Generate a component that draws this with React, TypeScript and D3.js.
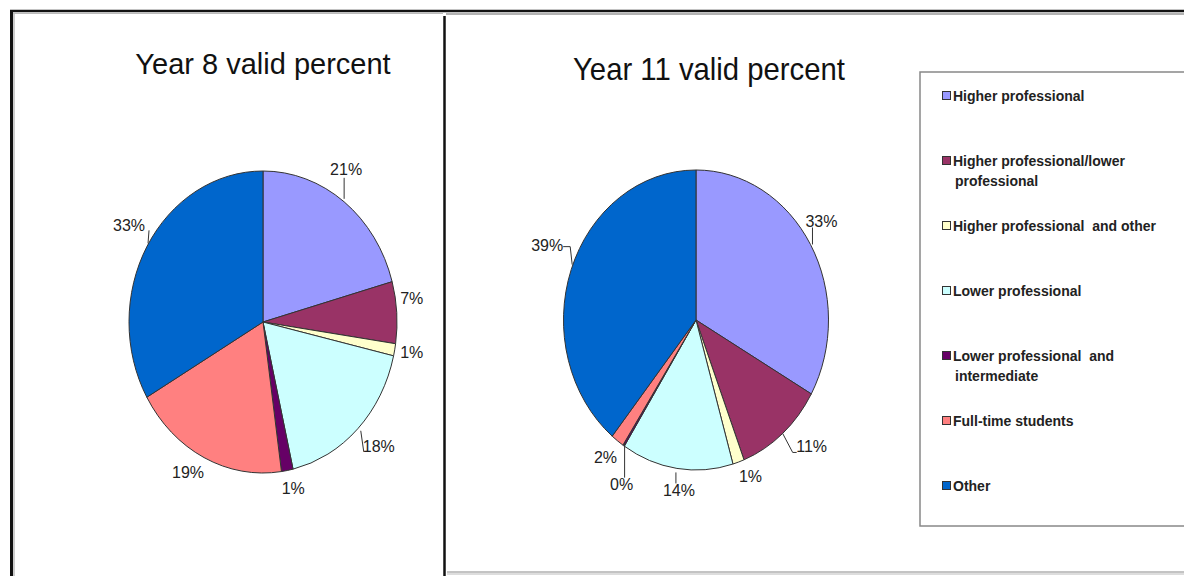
import React from "react";
import * as d3 from "d3";

const categories = [
  "Higher professional",
  "Higher professional/lower professional",
  "Higher professional and other",
  "Lower professional",
  "Lower professional and intermediate",
  "Full-time students",
  "Other",
];
const legendLines = [
  ["Higher professional"],
  ["Higher professional/lower", "professional"],
  ["Higher professional  and other"],
  ["Lower professional"],
  ["Lower professional  and", "intermediate"],
  ["Full-time students"],
  ["Other"],
];
const colors = ["#9999FF", "#993366", "#FFFFCC", "#CCFFFF", "#660066", "#FF8080", "#0066CC"];

const year8Values = [20.7, 6.6, 1.3, 17.8, 1.4, 18.9, 33.3];
const year11Values = [33.2, 10.9, 1.4, 13.6, 0.2, 1.6, 39.1];

const titles = ["Year 8 valid percent", "Year 11 valid percent"];

// layout: label offsets from slice edge midpoint, and optional leader lines (relative to edge point)
type Lay = { dx: number; dy: number; leader?: number[][] };
const year8Layout: Lay[] = [
  { dx: 2, dy: -33, leader: [[0, -3], [0, -24]] },
  { dx: 15, dy: -14 },
  { dx: 17, dy: 2 },
  { dx: 21, dy: 17, leader: [[3, 2], [6, 23]] },
  { dx: 6, dy: 18 },
  { dx: -16, dy: 15 },
  { dx: -18, dy: -21, leader: [[1, -3], [2, -16]] },
];
const year11Layout: Lay[] = [
  { dx: 11, dy: -23, leader: [[2, 0], [2, -17]] },
  { dx: 29, dy: 13, leader: [[0, 0], [10, 19], [14, 19]] },
  { dx: 12, dy: 14 },
  { dx: 2, dy: 22, leader: [[-1, 4], [-1, 15]] },
  { dx: -2, dy: 39, leader: [[1, -3], [1, 32]] },
  { dx: -12, dy: 16 },
  { dx: -24, dy: -24, leader: [[1, -5], [-1, -23], [-8, -23]] },
];

const FONT = "'Liberation Sans', Arial, sans-serif";

function Pie({ values, layout, cx, cy, rx, ry }: { values: number[]; layout: Lay[]; cx: number; cy: number; rx: number; ry: number }) {
  const pie = d3.pie<number>().sort(null).value((d) => d);
  const arcs = pie(values);
  const arc = d3.arc<d3.PieArcDatum<number>>().innerRadius(0).outerRadius(rx);
  const fmt = (v: number) => `${Math.round(v)}%`;
  return (
    <g>
      <g transform={`translate(${cx},${cy}) scale(1,${ry / rx})`}>
        {arcs.map((a, i) => (
          <path key={i} d={arc(a) || ""} fill={colors[i]} stroke="#333" strokeWidth={1} vectorEffect="non-scaling-stroke" strokeLinejoin="round" />
        ))}
      </g>
      {arcs.map((a, i) => {
        const mid = (a.startAngle + a.endAngle) / 2;
        const ex = cx + rx * Math.sin(mid);
        const ey = cy - ry * Math.cos(mid);
        const l = layout[i];
        return (
          <g key={i}>
            {l.leader && (
              <polyline
                points={l.leader.map((p) => `${ex + p[0]},${ey + p[1]}`).join(" ")}
                fill="none"
                stroke="#333"
                strokeWidth={1}
              />
            )}
            <text x={ex + l.dx} y={ey + l.dy} dy="0.36em" textAnchor="middle" fontFamily={FONT} fontSize={16} fill="#222">
              {fmt(values[i])}
            </text>
          </g>
        );
      })}
    </g>
  );
}

export default function App() {
  const legendY = d3.scalePoint<number>().domain(d3.range(categories.length)).range([96, 486]);
  return (
    <svg width={1184} height={576} style={{ position: "absolute", left: 0, top: 0, background: "#fff" }}>
      <rect x={0} y={0} width={1184} height={576} fill="#fff" />
      {/* frames */}
      <line x1={13} y1={13.5} x2={443} y2={13.5} stroke="#bbb" strokeWidth={1} />
      <line x1={14} y1={13} x2={14} y2={576} stroke="#bbb" strokeWidth={1.5} />
      <line x1={446} y1={14} x2={1184} y2={14} stroke="#999" strokeWidth={1.5} />
      <line x1={447} y1={572} x2={1184} y2={572} stroke="#888" strokeWidth={1} />
      <line x1={447} y1={574} x2={1184} y2={574} stroke="#bbb" strokeWidth={1} />
      <line x1={10} y1={11} x2={1184} y2={11} stroke="#111" strokeWidth={2.5} />
      <line x1={11.5} y1={10} x2={11.5} y2={576} stroke="#111" strokeWidth={3} />
      <line x1={444.5} y1={16} x2={444.5} y2={576} stroke="#111" strokeWidth={2.5} />

      <text x={263} y={74} textAnchor="middle" fontFamily={FONT} fontSize={29} fill="#111">
        {titles[0]}
      </text>
      <text x={709} y={80} textAnchor="middle" fontFamily={FONT} fontSize={32} fill="#111" textLength={272} lengthAdjust="spacingAndGlyphs">
        {titles[1]}
      </text>

      <Pie values={year8Values} layout={year8Layout} cx={263} cy={322} rx={134} ry={151} />
      <Pie values={year11Values} layout={year11Layout} cx={696} cy={320} rx={132.5} ry={150} />

      {/* legend */}
      <rect x={920} y={72} width={300} height={454} fill="#fff" stroke="#888" strokeWidth={1.5} />
      {categories.map((c, i) => {
        const y = legendY(i) as number;
        return (
          <g key={c}>
            <rect x={942.5} y={y - 4.5} width={8} height={8} fill={colors[i]} stroke="#333" strokeWidth={1} />
            <text x={953} y={y + 5} fontFamily={FONT} fontSize={14} fontWeight="bold" fill="#222" style={{ whiteSpace: "pre" }}>
              {legendLines[i].map((ln, j) => (
                <tspan key={j} x={j === 0 ? 953 : 955} dy={j === 0 ? 0 : 20}>
                  {ln}
                </tspan>
              ))}
            </text>
          </g>
        );
      })}
    </svg>
  );
}
